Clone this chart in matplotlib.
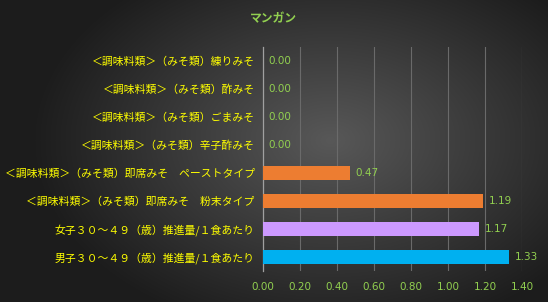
import numpy as np
import matplotlib
matplotlib.use('Agg')
import matplotlib.pyplot as plt

plt.rcParams['font.family'] = ['Noto Sans CJK JP', 'DejaVu Sans']

# data (top to bottom)
labels = [
	'＜調味料類＞（みそ類）練りみそ',
	'＜調味料類＞（みそ類）酢みそ',
	'＜調味料類＞（みそ類）ごまみそ',
	'＜調味料類＞（みそ類）辛子酢みそ',
	'＜調味料類＞（みそ類）即席みそ　ペーストタイプ',
	'＜調味料類＞（みそ類）即席みそ　粉末タイプ',
	'女子３０～４９（歳）推進量/１食あたり',
	'男子３０～４９（歳）推進量/１食あたり',
]
values = [0.00, 0.00, 0.00, 0.00, 0.47, 1.19, 1.17, 1.33]
colors = ['#ED7D31', '#ED7D31', '#ED7D31', '#ED7D31', '#ED7D31', '#ED7D31', '#CC99FF', '#00B0F0']
ticks = [0.0, 0.2, 0.4, 0.6, 0.8, 1.0, 1.2, 1.4]

GREEN = '#92D050'
YELLOW = '#FFFF00'
FS = 7.5

fig = plt.figure(figsize=(5.48, 3.02), dpi=100)

# radial gradient background
bg = fig.add_axes([0, 0, 1, 1])
yy, xx = np.mgrid[0:302, 0:548]
r = np.sqrt(((xx - 330) / 300.0) ** 2 + ((yy - 140) / 200.0) ** 2)
r = np.clip(r, 0, 1)
c0 = np.array([0x58, 0x58, 0x58]) / 255.0
c1 = np.array([0x1c, 0x1c, 0x1c]) / 255.0
img = c0[None, None, :] * (1 - r[..., None]) + c1[None, None, :] * r[..., None]
bg.imshow(img, aspect='auto', extent=[0, 1, 0, 1])
bg.set_axis_off()

ax = fig.add_axes([263 / 548, 1 - 271 / 302, (522 - 263) / 548, (271 - 47) / 302])
ax.patch.set_alpha(0)

n = len(values)
ypos = np.arange(n)[::-1]
ax.barh(ypos, values, height=0.47, color=colors, zorder=3)

for y, v in zip(ypos, values):
	ax.text(v + 0.03, y, '%.2f' % v, color=GREEN, fontsize=FS, va='center', ha='left',
			family=['DejaVu Sans'], zorder=4)

ax.set_xlim(0, 1.4)
ax.set_ylim(-0.5, n - 0.5)
ax.set_xticks(ticks)
ax.set_xticklabels(['%.2f' % t for t in ticks], color=GREEN, fontsize=FS, family=['DejaVu Sans'])
ax.set_yticks(ypos)
ax.set_yticklabels(labels, color=YELLOW, fontsize=7.8)
ax.tick_params(axis='both', length=0)
ax.tick_params(axis='x', pad=8)
ax.tick_params(axis='y', pad=6)

ax.grid(axis='x', color='#6a6a6a', linewidth=0.8, zorder=0)
for s in ['top', 'right', 'bottom']:
	ax.spines[s].set_visible(False)
ax.spines['left'].set_color('#a0a0a0')
ax.spines['left'].set_linewidth(0.9)

fig.text(273 / 548, 1 - 19 / 302, 'マンガン', color=GREEN, fontsize=8.5, fontweight='bold',
		 ha='center', va='center')

fig.savefig('out.png', dpi=100)
